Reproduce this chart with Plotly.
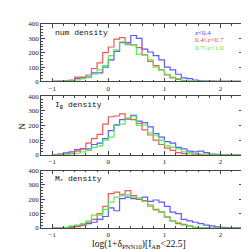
import numpy as np
import plotly.graph_objects as go

# bin left edges from -1.0 to 2.3 (width 0.1)
bin_left = [round(-1.0 + 0.1 * i, 2) for i in range(34)]
bin_width = 0.1

num_blue = [0, 0, 2, 5, 20, 25, 30, 60, 60, 100, 150, 210, 270, 270, 320, 300, 225, 205, 180, 150, 100, 80, 50, 25, 20, 10, 5, 2, 3, 1, 0, 0, 0, 0]
num_red = [0, 2, 5, 10, 30, 30, 45, 90, 130, 200, 240, 295, 305, 260, 255, 235, 185, 140, 110, 80, 45, 25, 15, 5, 3, 2, 1, 0, 0, 0, 0, 0, 0, 0]
num_green = [0, 0, 2, 5, 10, 20, 30, 50, 80, 110, 180, 220, 275, 255, 255, 190, 185, 150, 100, 80, 50, 30, 20, 8, 5, 3, 2, 1, 0, 0, 0, 0, 0, 0]

ib_blue = [0, 5, 12, 20, 35, 40, 40, 70, 80, 110, 165, 205, 240, 245, 270, 230, 220, 190, 145, 120, 90, 80, 50, 40, 25, 20, 25, 15, 5, 3, 1, 0, 0, 0]
ib_red = [0, 2, 5, 10, 25, 40, 80, 110, 140, 210, 260, 265, 280, 245, 240, 215, 170, 135, 100, 70, 45, 30, 15, 8, 5, 3, 1, 0, 0, 0, 0, 0, 0, 0]
ib_green = [0, 0, 2, 5, 10, 20, 30, 50, 60, 100, 120, 200, 210, 250, 265, 200, 205, 150, 130, 100, 60, 50, 40, 20, 15, 8, 5, 5, 3, 2, 1, 0, 0, 0]

ms_blue = [0, 0, 3, 8, 15, 20, 30, 40, 60, 80, 140, 120, 205, 215, 205, 200, 215, 185, 195, 180, 150, 110, 100, 60, 50, 40, 30, 20, 15, 8, 5, 3, 2, 1]
ms_red = [0, 0, 2, 5, 10, 20, 40, 60, 100, 150, 240, 250, 235, 260, 225, 200, 190, 160, 130, 110, 75, 50, 30, 25, 15, 5, 3, 1, 0, 0, 0, 0, 0, 0]
ms_green = [0, 0, 5, 15, 20, 30, 50, 90, 90, 130, 180, 215, 225, 230, 215, 210, 185, 150, 125, 115, 80, 50, 40, 20, 15, 5, 3, 1, 0, 0, 0, 0, 0, 0]

panel_labels = ["num density", "I<sub>B</sub> density", "M<sub>*</sub> density"]
legend_labels = ["z<0.4", "0.4≤z<0.7", "0.7≤z<1.0"]
colors = ["#4a4aff", "#f04848", "#48ee48"]
x_ticks = [-1, 0, 1, 2]
y_ticks = [0, 100, 200, 300, 400]

panels = [
    [num_blue, num_red, num_green],
    [ib_blue, ib_red, ib_green],
    [ms_blue, ms_red, ms_green],
]

edges = bin_left + [round(bin_left[-1] + bin_width, 2)]

fig = go.Figure()
domains = [[0.7184, 1.0], [0.3592, 0.6456], [0.0, 0.2816]]
font_main = "Liberation Serif"

for p, series in enumerate(panels):
    ax = "" if p == 0 else str(p + 1)
    for s, vals in enumerate(series):
        yv = list(vals) + [vals[-1]]
        fig.add_trace(go.Scatter(
            x=edges, y=yv, mode="lines", line=dict(shape="hv", color=colors[s], width=1.2),
            opacity=0.9, showlegend=False, xaxis="x" + ax, yaxis="y" + ax))
    common = dict(ticks="inside", ticklen=4, tickwidth=0.8, mirror="allticks",
                  showline=True, linecolor="#444", linewidth=0.8, showgrid=False,
                  zeroline=False, tickcolor="#444",
                  tickfont=dict(size=7, family=font_main, color="#222"))
    fig.update_layout(**{
        "xaxis" + ax: dict(range=[-1.2, 2.4], tickvals=x_ticks, anchor="y" + ax,
                           minor=dict(dtick=0.2, ticks="inside", ticklen=2, tickcolor="#444"),
                           **common),
        "yaxis" + ax: dict(range=[0, 400], tickvals=y_ticks, domain=domains[p], anchor="x" + ax,
                           minor=dict(dtick=20, ticks="inside", ticklen=2, tickcolor="#444"),
                           **common),
    })
    fig.add_annotation(text=panel_labels[p], xref="x" + ax + " domain", yref="y" + ax + " domain",
                       x=0.06, y=0.845, xanchor="left", yanchor="middle", showarrow=False,
                       font=dict(size=8, family="Liberation Mono", color="#111"))

for s, lab in enumerate(legend_labels):
    fig.add_annotation(text=lab, xref="x domain", yref="y domain", x=0.75, y=0.85 - s * 0.13,
                       xanchor="left", yanchor="middle", showarrow=False,
                       font=dict(size=7, family=font_main, color=colors[s]))

fig.add_annotation(text="N", xref="paper", yref="paper", x=-0.13, y=0.5, showarrow=False,
                   textangle=-90, font=dict(size=9, family=font_main, color="#111"))
fig.add_annotation(text="log(1+δ<sub>PNN10</sub>)[I<sub>AB</sub><22.5]", xref="paper", yref="paper",
                   x=0.485, y=-0.079, yanchor="middle", showarrow=False,
                   font=dict(size=9.5, family=font_main, color="#111"))

fig.update_layout(width=249, height=249, margin=dict(l=33, r=14, t=14, b=29),
                  paper_bgcolor="white", plot_bgcolor="white")
fig.write_html("out.html")
